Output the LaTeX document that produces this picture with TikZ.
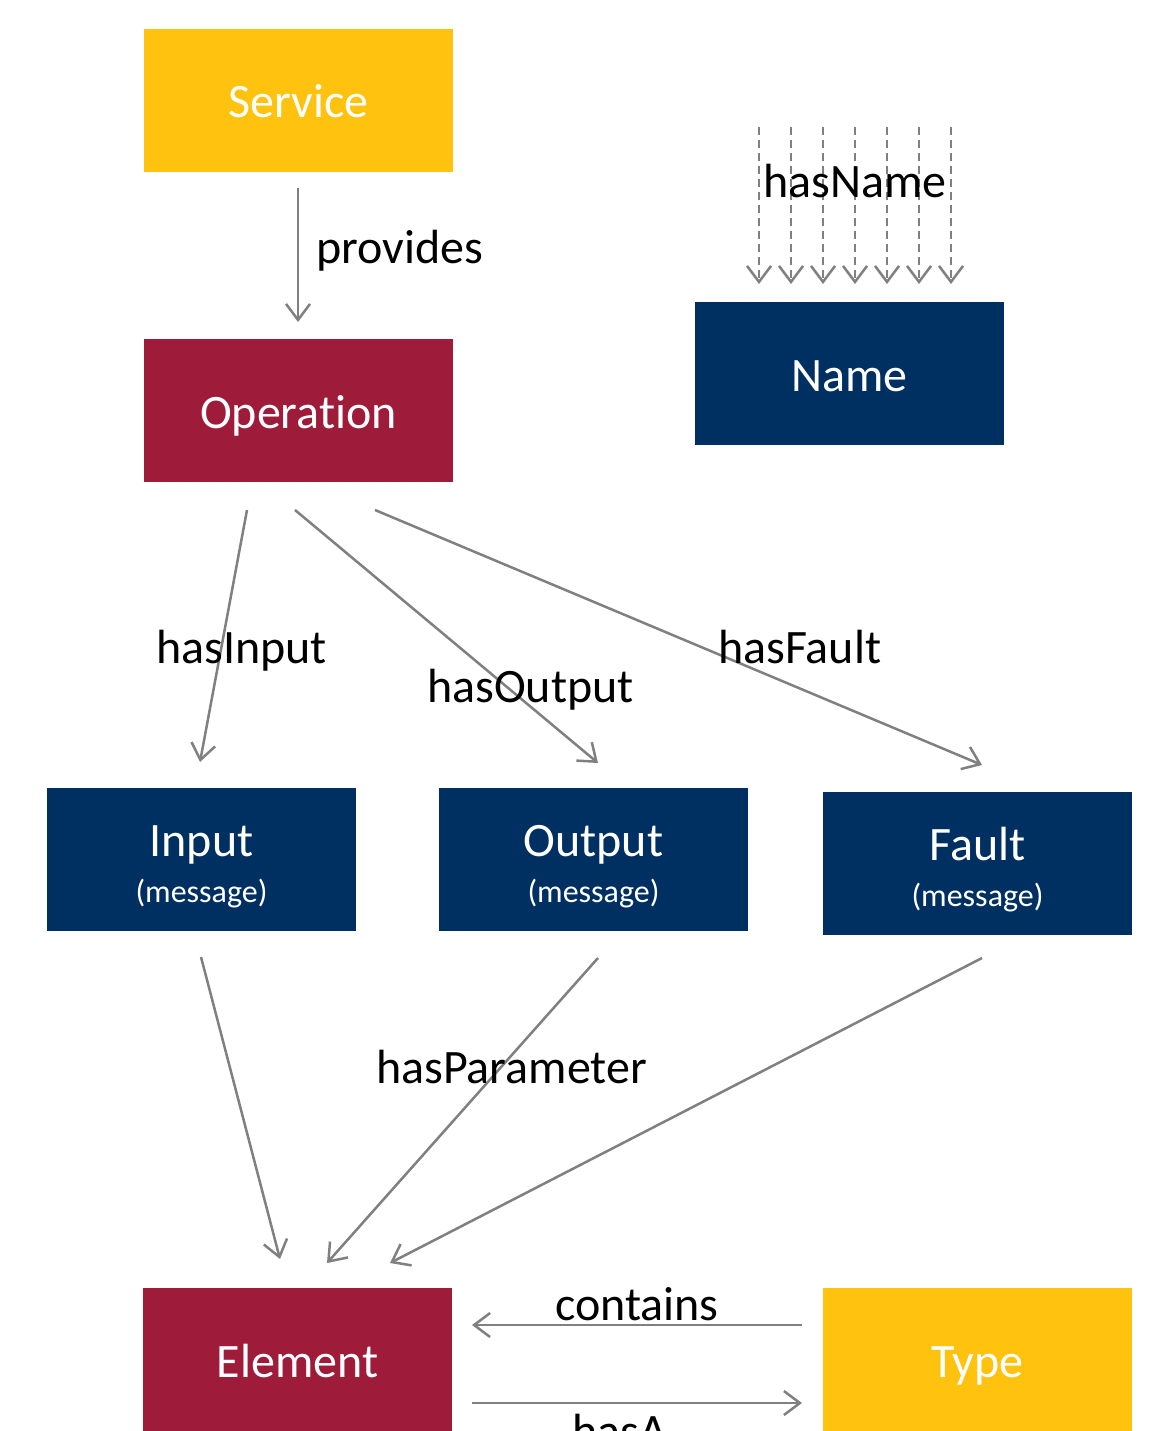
\documentclass[tikz,border=0pt]{standalone}
\usepackage{fontspec}
\setmainfont{Carlito}[Ligatures=NoCommon]
\usetikzlibrary{arrows.meta}
\definecolor{cyellow}{HTML}{FFC20E}
\definecolor{cred}{HTML}{9E1B3A}
\definecolor{cnavy}{HTML}{003062}
\definecolor{cgray}{HTML}{808080}
\begin{document}
\begin{tikzpicture}[x=1pt,y=-1pt,
  box/.style={minimum width=309pt, minimum height=143pt, inner sep=0pt, text=white,
    font=\fontsize{48}{52}\selectfont, text height=35pt, text depth=0pt},
  conn/.style={draw=cgray, line width=2.5pt, -{Straight Barb[length=16pt,width=24pt,line width=2.5pt]}},
  dconn/.style={conn, dash pattern=on 8pt off 5pt},
  lbl/.style={font=\fontsize{48}{52}\selectfont, inner sep=0pt, anchor=base west},
  clbl/.style={lbl, anchor=base},
  wlbl/.style={clbl, text=white},
  sub/.style={clbl, text=white, font=\fontsize{32}{36}\selectfont}]
\useasboundingbox (0,0) rectangle (1151,1431);
\fill[white] (0,0) rectangle (1151,1431);
\clip (0,0) rectangle (1151,1431);

% boxes
\node[box, fill=cyellow] (service) at (298.5,100.5) {Service};
\node[box, fill=cred] (operation) at (298.5,410.5) {Operation};
\node[box, fill=cnavy] (name) at (849.5,373.5) {Name};
\node[box, fill=cnavy] (input) at (201.5,859.5) {};
\node[box, fill=cnavy] (output) at (593.5,859.5) {};
\node[box, fill=cnavy] (fault) at (977.5,863.5) {};
\node[box, fill=cred] (element) at (297.5,1359.5) {Element};
\node[box, fill=cyellow] (type) at (977.5,1359.5) {Type};

\node[wlbl] (inputT) at (201.5,856) {Input};
\node[sub] (inputS) at (201.5,902) {(message)};
\node[wlbl] (outputT) at (593.5,856) {Output};
\node[sub] (outputS) at (593.5,902) {(message)};
\node[wlbl] (faultT) at (977.5,860) {Fault};
\node[sub] (faultS) at (977.5,906) {(message)};

% connector end points
\coordinate (provA) at (298,188);   \coordinate (provB) at (298,322);
\coordinate (inA) at (247,510);     \coordinate (inB) at (200,762);
\coordinate (outA) at (295,510);    \coordinate (outB) at (598,763);
\coordinate (fltA) at (375,510);    \coordinate (fltB) at (982,765);
\coordinate (ieA) at (201,957);     \coordinate (ieB) at (280,1259);
\coordinate (oeA) at (598,958);     \coordinate (oeB) at (327,1263);
\coordinate (feA) at (982,958);     \coordinate (feB) at (390,1263);
\coordinate (conA) at (802,1325);   \coordinate (conB) at (472,1325);
\coordinate (hasAA) at (472,1403);  \coordinate (hasAB) at (802,1403);

\draw[conn] (provA) -- (provB);
\draw[conn] (inA) -- (inB);
\draw[conn] (outA) -- (outB);
\draw[conn] (fltA) -- (fltB);
\draw[conn] (ieA) -- (ieB);
\draw[conn] (oeA) -- (oeB);
\draw[conn] (feA) -- (feB);
\draw[conn] (conA) -- (conB);
\draw[conn] (hasAA) -- (hasAB);

\foreach \i/\xx in {1/759,2/791,3/823,4/855,5/887,6/919,7/951}{
  \coordinate (hn\i a) at (\xx,127);
  \coordinate (hn\i b) at (\xx,284);
  \draw[dconn] (hn\i a) -- (hn\i b);
}

% labels
\node[lbl] (lprov) at (316,263) {provides};
\node[clbl] (lname) at (855,198) {hasName};
\node[lbl] (lin) at (156,663) {hasInput};
\node[lbl] (lout) at (427,702) {hasOutput};
\node[lbl] (lflt) at (718,663) {hasFault};
\node[lbl] (lpar) at (376,1083) {hasParameter};
\node[clbl] (lcon) at (637,1320) {contains};
\node[clbl] (lhasA) at (620,1447) {hasA};
\end{tikzpicture}
\end{document}
